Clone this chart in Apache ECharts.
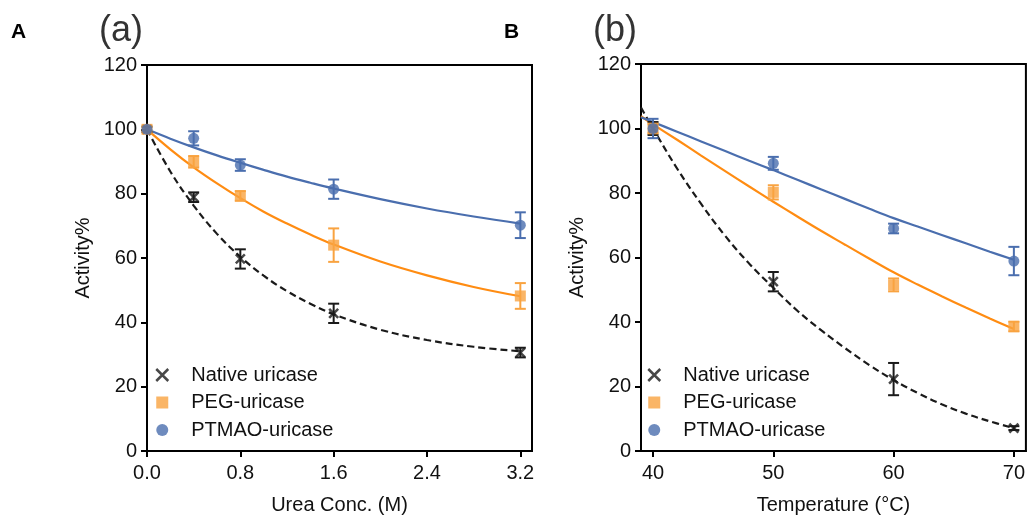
<!DOCTYPE html>
<html>
<head>
<meta charset="utf-8">
<title>Uricase activity</title>
<script src="https://cdn.jsdelivr.net/npm/echarts@6/dist/echarts.min.js"></script>
<style>
  html, body { margin: 0; padding: 0; background: #fff; }
  #chart { width: 1028px; height: 520px; }
</style>
</head>
<body>
<div id="chart"></div>
<script>
// Panel (a): activity vs urea concentration
const ureaConc = [0, 0.4, 0.8, 1.6, 3.2];
const ureaNative = [100, 78.9, 59.7, 42.8, 30.6];
const ureaNativeErr = [0.8, 1.5, 3, 3, 1.5];
const ureaPEG = [100, 89.9, 79.3, 64.0, 48.2];
const ureaPEGErr = [0, 1.8, 1.5, 5.2, 4];
const ureaPTMAO = [100, 97.2, 88.9, 81.4, 70.2];
const ureaPTMAOErr = [0, 2.2, 1.8, 3, 4];

// Fitted decay curves for panel (a)
const ureaFitX = [0, 0.2, 0.4, 0.6, 0.8, 1.0, 1.2, 1.4, 1.6, 2.0, 2.4, 2.8, 3.2];
const ureaNativeFit = [100, 86.9, 76.3, 67.5, 60.4, 54.5, 49.7, 45.8, 42.5, 37.7, 34.5, 32.4, 31.0];
const ureaPEGFit = [100, 93.8, 88.2, 83.2, 78.6, 74.4, 70.7, 67.3, 64.2, 58.9, 54.6, 51.0, 48.1];
const ureaPTMAOFit = [100, 97.1, 94.4, 91.9, 89.6, 87.4, 85.3, 83.4, 81.6, 78.3, 75.4, 72.9, 70.7];

// Panel (b): activity vs temperature
const temps = [40, 50, 60, 70];
const tempNative = [100, 52.5, 22.3, 7.1];
const tempNativeErr = [2, 3, 5, 0.6];
const tempPEG = [100, 80.2, 51.5, 38.6];
const tempPEGErr = [1.5, 2.2, 2, 1.5];
const tempPTMAO = [100, 89.2, 69.0, 58.9];
const tempPTMAOErr = [3, 2, 1.5, 4.4];

// Fitted curves for panel (b)
const tempFitX = [39, 40, 42, 44, 46, 48, 50, 52, 54, 56, 58, 60, 62, 64, 66, 68, 70];
const tempNativeFit = [106.5, 100, 87.6, 76.6, 66.7, 58.1, 50.6, 43.5, 37.4, 31.8, 26.6, 22.0, 18.0, 14.5, 11.6, 9.2, 7.1];
const tempPEGFit = [103.8, 101.3, 96.5, 91.6, 86.8, 82.0, 77.3, 72.7, 68.2, 63.9, 59.6, 55.4, 51.6, 48.0, 44.5, 41.1, 37.8];
const tempPTMAOFit = [103.5, 102.0, 99.0, 96.0, 93.0, 90.0, 87.1, 84.1, 81.1, 78.1, 75.1, 72.2, 69.6, 67.0, 64.4, 61.8, 59.3];

const yTicks = [0, 20, 40, 60, 80, 100, 120];
const ureaTicks = [0, 0.8, 1.6, 2.4, 3.2];
const tempTicks = [40, 50, 60, 70];

const NAMES = ['Native uricase', 'PEG-uricase', 'PTMAO-uricase'];
const BLACK = '#1a1a1a';
const ORANGE_MARK = '#F9A340';
const ORANGE_LINE = '#FF8C12';
const BLUE = '#4A6EAE';
const FONT = 'Liberation Sans, Arial, Helvetica, sans-serif';
const CROSS = 'path://M0,0L10,10M10,0L0,10';

const zip = (xs, ys) => xs.map((x, i) => [x, ys[i]]);

function errorBarSeries(xs, ys, errs, color, idx) {
  const data = [];
  xs.forEach((x, i) => { if (errs[i] > 0) data.push([x, ys[i] - errs[i], ys[i] + errs[i]]); });
  return {
    type: 'custom', xAxisIndex: idx, yAxisIndex: idx, z: 3, silent: true,
    encode: { x: 0, y: [1, 2] },
    data,
    renderItem(params, api) {
      const x = api.value(0);
      const lo = api.coord([x, api.value(1)]);
      const hi = api.coord([x, api.value(2)]);
      const hw = 5.5;
      const st = { stroke: color, lineWidth: 2 };
      return {
        type: 'group',
        children: [
          { type: 'line', shape: { x1: lo[0], y1: lo[1], x2: hi[0], y2: hi[1] }, style: st },
          { type: 'line', shape: { x1: lo[0] - hw, y1: lo[1], x2: lo[0] + hw, y2: lo[1] }, style: st },
          { type: 'line', shape: { x1: hi[0] - hw, y1: hi[1], x2: hi[0] + hw, y2: hi[1] }, style: st }
        ]
      };
    }
  };
}

function fitSeries(name, xs, ys, color, dashed, idx) {
  return {
    name, type: 'line', xAxisIndex: idx, yAxisIndex: idx, z: 2,
    data: zip(xs, ys), smooth: 0.4, showSymbol: false, silent: true,
    lineStyle: { color, width: 2.2, type: dashed ? [7, 4] : 'solid' }
  };
}

function markSeries(name, xs, ys, idx) {
  const base = { name, type: 'scatter', xAxisIndex: idx, yAxisIndex: idx, z: 4, data: zip(xs, ys) };
  if (name === NAMES[0]) {
    return Object.assign(base, { symbol: CROSS, symbolSize: 9,
      itemStyle: { color: BLACK, borderColor: BLACK, borderWidth: 2.5 } });
  }
  if (name === NAMES[1]) {
    return Object.assign(base, { symbol: 'rect', symbolSize: 11, itemStyle: { color: ORANGE_MARK } });
  }
  return Object.assign(base, { symbol: 'circle', symbolSize: 11, itemStyle: { color: BLUE } });
}

function panelSeries(idx, xs, nat, natE, peg, pegE, pt, ptE, fx, natF, pegF, ptF) {
  return [
    fitSeries('native fit ' + idx, fx, natF, BLACK, true, idx),
    fitSeries('peg fit ' + idx, fx, pegF, ORANGE_LINE, false, idx),
    fitSeries('ptmao fit ' + idx, fx, ptF, BLUE, false, idx),
    errorBarSeries(xs, nat, natE, BLACK, idx),
    errorBarSeries(xs, peg, pegE, ORANGE_MARK, idx),
    errorBarSeries(xs, pt, ptE, BLUE, idx),
    markSeries(NAMES[0], xs, nat, idx),
    markSeries(NAMES[1], xs, peg, idx),
    markSeries(NAMES[2], xs, pt, idx)
  ];
}

const axisLine = { show: true, onZero: false, lineStyle: { color: '#000', width: 2 } };
const axisTick = { show: true, length: 6, lineStyle: { color: '#000', width: 2 } };
const labelStyle = { color: '#111', fontSize: 20, fontFamily: FONT };

function xAxis(idx, min, max, ticks, name, fmt) {
  return {
    type: 'value', gridIndex: idx, min, max,
    name, nameLocation: 'middle', nameGap: 44,
    nameTextStyle: { color: '#111', fontSize: 20, fontFamily: FONT },
    axisLine, splitLine: { show: false },
    axisTick: Object.assign({ customValues: ticks }, axisTick),
    axisLabel: Object.assign({ customValues: ticks, margin: 12, formatter: fmt }, labelStyle)
  };
}

function yAxis(idx) {
  return {
    type: 'value', gridIndex: idx, min: 0, max: 120, interval: 20,
    name: 'Activity%', nameLocation: 'middle', nameGap: 54,
    nameTextStyle: { color: '#111', fontSize: 20, fontFamily: FONT },
    axisLine, splitLine: { show: false },
    axisTick: Object.assign({ customValues: yTicks }, axisTick),
    axisLabel: Object.assign({ customValues: yTicks, margin: 10 }, labelStyle)
  };
}

function legend(left) {
  return {
    orient: 'vertical', left, top: 360, itemWidth: 12, itemHeight: 12, itemGap: 7.5,
    selectedMode: false,
    textStyle: { color: '#111', fontSize: 20, fontFamily: FONT, lineHeight: 20, padding: [0, 0, 0, 18] },
    data: [
      { name: NAMES[0], itemStyle: { color: BLACK, borderColor: BLACK, borderWidth: 2.5 } },
      { name: NAMES[1] },
      { name: NAMES[2] }
    ]
  };
}

const chart = echarts.init(document.getElementById('chart'), null, { renderer: 'canvas' });
chart.setOption({
  animation: false,
  backgroundColor: '#fff',
  grid: [
    { left: 147, top: 65, width: 385, height: 386, show: true, borderColor: '#000', borderWidth: 2, backgroundColor: 'transparent' },
    { left: 641, top: 64, width: 385, height: 387, show: true, borderColor: '#000', borderWidth: 2, backgroundColor: 'transparent' }
  ],
  xAxis: [
    xAxis(0, 0, 3.3, ureaTicks, 'Urea Conc. (M)', v => v.toFixed(1)),
    xAxis(1, 39, 71, tempTicks, 'Temperature (°C)', v => String(v))
  ],
  yAxis: [yAxis(0), yAxis(1)],
  legend: [legend(150), legend(642)],
  graphic: [
    { type: 'text', left: 11, top: 22, style: { text: 'A', fontSize: 21, fontWeight: 'bold', fontFamily: FONT, fill: '#000' } },
    { type: 'text', left: 504, top: 22, style: { text: 'B', fontSize: 21, fontWeight: 'bold', fontFamily: FONT, fill: '#000' } },
    { type: 'text', left: 99, top: 13, style: { text: '(a)', fontSize: 36, fontFamily: FONT, fill: '#333' } },
    { type: 'text', left: 593, top: 13, style: { text: '(b)', fontSize: 36, fontFamily: FONT, fill: '#333' } }
  ],
  series: [
    ...panelSeries(0, ureaConc, ureaNative, ureaNativeErr, ureaPEG, ureaPEGErr, ureaPTMAO, ureaPTMAOErr,
      ureaFitX, ureaNativeFit, ureaPEGFit, ureaPTMAOFit),
    ...panelSeries(1, temps, tempNative, tempNativeErr, tempPEG, tempPEGErr, tempPTMAO, tempPTMAOErr,
      tempFitX, tempNativeFit, tempPEGFit, tempPTMAOFit)
  ]
});
</script>
</body>
</html>
